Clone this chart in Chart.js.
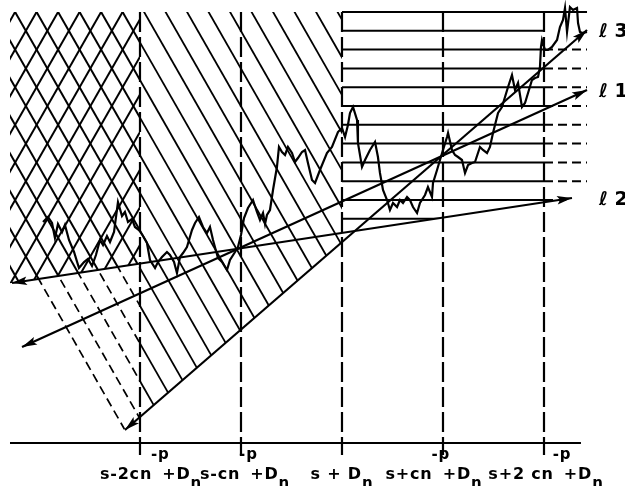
<!DOCTYPE html>
<html><head><meta charset="utf-8">
<script src="https://cdn.jsdelivr.net/npm/chart.js@4/dist/chart.umd.min.js"></script>
<style>html,body{margin:0;padding:0;background:#fff;}canvas{display:block;}</style>
</head><body>
<canvas id="c" width="625" height="486"></canvas>
<script>
// ---- data (x in units of c n^-p around s + D_n) ----
const tickValues = [-2, -1, 0, 1, 2];
const tickMain = ['s-2cn', 's-cn', 's + D', 's+cn', 's+2 cn'];
const tickSup  = ['-p', '-p', '', '-p', '-p'];
const tickTail = ['+D', '+D', '', '+D', '+D'];
const tickSub  = ['n', 'n', 'n', 'n', 'n'];

const walkX = [
 -2.960,-2.911,-2.871,-2.842,-2.812,-2.772,-2.743,-2.703,-2.653,-2.604,
 -2.554,-2.515,-2.475,-2.436,-2.396,-2.366,-2.327,-2.297,-2.257,-2.218,
 -2.178,-2.149,-2.119,-2.079,-2.050,-2.010,-1.970,-1.931,-1.901,-1.851,
 -1.822,-1.782,-1.733,-1.703,-1.663,-1.634,-1.604,-1.574,-1.535,-1.485,
 -1.455,-1.416,-1.376,-1.337,-1.307,-1.277,-1.228,-1.188,-1.139,-1.109,
 -1.059,-1.030,-1.000,-0.970,-0.931,-0.881,-0.842,-0.812,-0.782,-0.762,
 -0.743,-0.713,-0.683,-0.644,-0.624,-0.594,-0.564,-0.535,-0.495,-0.465,
 -0.436,-0.396,-0.366,-0.337,-0.297,-0.267,-0.218,-0.149,-0.099,-0.040,
 0.000,0.030,0.059,0.079,0.109,0.149,0.158,0.198,0.228,0.277,
 0.327,0.356,0.376,0.406,0.446,0.475,0.505,0.545,0.574,0.604,
 0.644,0.673,0.703,0.743,0.772,0.822,0.851,0.891,0.901,0.941,
 0.970,1.000,1.040,1.050,1.089,1.119,1.149,1.188,1.218,1.248,
 1.287,1.317,1.366,1.396,1.436,1.465,1.495,1.545,1.584,1.614,
 1.644,1.683,1.713,1.743,1.782,1.812,1.842,1.881,1.911,1.941,
 1.960,1.970,1.980,2.010,2.040,2.079,2.129,2.158,2.188,2.208,
 2.228,2.257,2.287,2.327,2.337,2.356,2.386,2.426];
const walkY = [
 2.21,2.26,2.20,2.05,2.19,2.11,2.18,2.03,1.91,1.75,
 1.81,1.84,1.77,1.88,2.03,1.98,2.07,2.01,2.11,2.41,
 2.27,2.31,2.21,2.24,2.16,2.13,2.07,2.00,1.83,1.75,
 1.81,1.86,1.91,1.88,1.81,1.70,1.86,1.90,1.96,2.13,
 2.20,2.26,2.16,2.10,2.16,2.03,1.85,1.81,1.73,1.83,
 1.91,1.96,2.08,2.25,2.35,2.43,2.31,2.23,2.30,2.19,
 2.28,2.33,2.53,2.76,2.96,2.91,2.88,2.96,2.90,2.81,
 2.85,2.91,2.93,2.80,2.63,2.60,2.73,2.90,2.96,3.11,
 3.15,3.06,3.18,3.30,3.36,3.23,3.00,2.76,2.83,2.93,
 3.01,2.86,2.70,2.53,2.43,2.33,2.40,2.36,2.43,2.40,
 2.46,2.43,2.36,2.30,2.40,2.48,2.56,2.46,2.60,2.73,
 2.83,2.93,3.06,3.10,2.93,2.88,2.86,2.83,2.70,2.78,
 2.80,2.81,2.96,2.93,2.90,2.96,3.10,3.30,3.36,3.46,
 3.56,3.68,3.53,3.60,3.36,3.40,3.50,3.63,3.65,3.66,
 3.76,3.96,4.03,3.93,3.93,3.96,4.03,4.16,4.23,4.35,
 4.11,4.36,4.33,4.35,4.20,4.11,4.10,4.11];

// lines l1, l2, l3 (two end points each)
const l1X = [-3.168, 2.426], l1Y = [0.96, 3.53];
const l2X = [-3.267, 2.277], l2Y = [1.60, 2.45];
const l3X = [-2.149, 2.426], l3Y = [0.13, 4.13];
const lineNames = ['\u2113 1', '\u2113 2', '\u2113 3'];

const axisX = [-3.287, 2.366];
const verticalY = [-0.12, 4.31];
const regionTop = 4.31;
const hatchLeft = -3.287;
const topEdgeX = [0, 2.426];
const extBand = [2.53, 4.03];
const extRight = 2.426;
const row11X = [2.0, 2.22], row11Y = 2.43;

// ---- helpers ----
function yOn(lx, ly, x) { return ly[0] + (ly[1] - ly[0]) * (x - lx[0]) / (lx[1] - lx[0]); }
function intersect(a, b, c, d) {
  const x1=a[0],y1=a[1],x2=b[0],y2=b[1],x3=c[0],y3=c[1],x4=d[0],y4=d[1];
  const den = (x1-x2)*(y3-y4)-(y1-y2)*(x3-x4);
  const px = ((x1*y2-y1*x2)*(x3-x4)-(x1-x2)*(x3*y4-y3*x4))/den;
  const py = ((x1*y2-y1*x2)*(y3-y4)-(y1-y2)*(x3*y4-y3*x4))/den;
  return [px, py];
}
function hatch(ctx, poly, anchor, dir, sp, dash, width) {
  const L = Math.hypot(dir[0], dir[1]);
  const d = [dir[0]/L, dir[1]/L], n = [-d[1], d[0]];
  let omin=Infinity, omax=-Infinity, tmin=Infinity, tmax=-Infinity;
  poly.forEach(p => {
    const vx = p[0]-anchor[0], vy = p[1]-anchor[1];
    const o = vx*n[0]+vy*n[1], t = vx*d[0]+vy*d[1];
    omin=Math.min(omin,o); omax=Math.max(omax,o); tmin=Math.min(tmin,t); tmax=Math.max(tmax,t);
  });
  ctx.save();
  ctx.beginPath();
  poly.forEach((p,i)=> i ? ctx.lineTo(p[0],p[1]) : ctx.moveTo(p[0],p[1]));
  ctx.closePath();
  ctx.clip();
  ctx.strokeStyle = '#000'; ctx.lineWidth = width; ctx.setLineDash(dash); ctx.lineCap = 'butt';
  for (let k = Math.ceil(omin/sp - 1e-6); k <= Math.floor(omax/sp + 1e-6); k++) {
    const o = k*sp;
    const bx = anchor[0]+n[0]*o, by = anchor[1]+n[1]*o;
    ctx.beginPath();
    ctx.moveTo(bx+d[0]*tmin, by+d[1]*tmin);
    ctx.lineTo(bx+d[0]*tmax, by+d[1]*tmax);
    ctx.stroke();
  }
  ctx.restore();
}

const SLOPE = 1.75;
const SP = 21.5 * SLOPE / Math.hypot(1, SLOPE);
const ROWSP = 18.8;

const hatchPlugin = {
  id: 'hatch',
  beforeDatasetsDraw(chart) {
    const ctx = chart.ctx, xs = chart.scales.x, ys = chart.scales.y;
    const P = (x, y) => [xs.getPixelForValue(x), ys.getPixelForValue(y)];
    const l2 = x => yOn(l2X, l2Y, x), l3 = x => yOn(l3X, l3Y, x);
    const tip = P(l3X[0], l3Y[0]);
    const topPx = ys.getPixelForValue(regionTop);
    const back = [1, SLOPE], fwd = [1, -SLOPE];
    const cross = [P(hatchLeft, regionTop), P(-2, regionTop), P(-2, l2(-2)), P(hatchLeft, l2(hatchLeft))];
    hatch(ctx, cross, tip, back, SP, [], 2);
    const fwdAnchor = [tip[0] - (tip[1] - topPx) / SLOPE, topPx];
    hatch(ctx, cross, fwdAnchor, fwd, SP, [], 2);
    const right = [P(-2, regionTop), P(0, regionTop), P(0, l3(0)), P(-2, l3(-2))];
    hatch(ctx, right, tip, back, SP, [], 1.8);
    const a = P(-3.5, l2(-3.5)), b = P(-2, l2(-2));
    const q = intersect(a, b, tip, [tip[0] + 1, tip[1] + SLOPE]);
    const dashedPoly = [[q[0]-3, q[1]-1], b, P(-2, l3(-2)), [tip[0]-3, tip[1]+1]];
    hatch(ctx, dashedPoly, tip, back, SP, [9, 5], 1.7);
    const hor = [P(0, regionTop), P(2, regionTop), P(2, l2(2)), P(0, l2(0))];
    hatch(ctx, hor, [0, topPx], [1, 0], ROWSP, [], 2);
    const ext = [P(2, extBand[1]), P(extRight, extBand[1]), P(extRight, extBand[0]), P(2, extBand[0])];
    hatch(ctx, ext, [0, topPx], [1, 0], ROWSP, [9, 5], 2);
  }
};

function arrowHead(ctx, from, to) {
  const dx = to[0]-from[0], dy = to[1]-from[1], L = Math.hypot(dx, dy);
  const u = [dx/L, dy/L], n = [-u[1], u[0]];
  const len = 15, w = 4.2;
  ctx.beginPath();
  ctx.moveTo(to[0], to[1]);
  ctx.lineTo(to[0]-u[0]*len+n[0]*w, to[1]-u[1]*len+n[1]*w);
  ctx.lineTo(to[0]-u[0]*len*0.8, to[1]-u[1]*len*0.8);
  ctx.lineTo(to[0]-u[0]*len-n[0]*w, to[1]-u[1]*len-n[1]*w);
  ctx.closePath();
  ctx.fill();
}

const decoPlugin = {
  id: 'deco',
  afterDatasetsDraw(chart) {
    const ctx = chart.ctx, xs = chart.scales.x, ys = chart.scales.y;
    const P = (x, y) => [xs.getPixelForValue(x), ys.getPixelForValue(y)];
    ctx.save();
    ctx.fillStyle = '#000';
    [[l1X, l1Y], [l2X, l2Y], [l3X, l3Y]].forEach(([lx, ly]) => {
      const p0 = P(lx[0], ly[0]), p1 = P(lx[1], ly[1]);
      arrowHead(ctx, p0, p1);
      arrowHead(ctx, p1, p0);
    });
    // line names
    ctx.font = 'bold 19px "DejaVu Sans"';
    ctx.textBaseline = 'alphabetic';
    ctx.textAlign = 'left';
    const ends = [[l1X, l1Y], [l2X, l2Y], [l3X, l3Y]];
    ends.forEach(([lx, ly], i) => {
      const p = P(lx[1], ly[1]);
      ctx.fillText(lineNames[i], 599, p[1] + 7);
    });
    // tick labels
    const shifts = [11, 4, 0, -9, 2];
    const mainFont = 'bold 16px "DejaVu Sans"', smallFont = 'bold 15px "DejaVu Sans"';
    ctx.letterSpacing = '0.8px';
    tickValues.forEach((v, i) => {
      ctx.font = mainFont;
      const wM = ctx.measureText(tickMain[i]).width;
      const wT = tickTail[i] ? ctx.measureText(tickTail[i]).width : 0;
      ctx.font = smallFont;
      const wS = tickSup[i] ? ctx.measureText(tickSup[i]).width : 0;
      const wB = ctx.measureText(tickSub[i]).width;
      const supAdv = wS * 0.55;
      const total = wM + supAdv + wT + wB;
      let x = xs.getPixelForValue(v) + shifts[i] - total / 2;
      ctx.font = mainFont; ctx.fillText(tickMain[i], x, 479); x += wM;
      if (tickSup[i]) { ctx.font = smallFont; ctx.fillText(tickSup[i], x - 1, 459); x += supAdv; }
      if (tickTail[i]) { ctx.font = mainFont; ctx.fillText(tickTail[i], x, 479); x += wT; }
      ctx.font = smallFont; ctx.fillText(tickSub[i], x, 488);
    });
    ctx.restore();
  }
};

const seg = (xs, ys) => xs.map((x, i) => ({x, y: ys[i]}));
const base = {showLine: true, pointRadius: 0, borderColor: '#000', fill: false, tension: 0};
const datasets = [];
datasets.push({...base, data: seg(axisX, [0, 0]), borderWidth: 2.2});
tickValues.forEach(v => datasets.push({...base, data: seg([v, v], [verticalY[1], verticalY[0]]), borderWidth: 2.2, borderDash: [20, 5]}));
datasets.push({...base, data: seg(topEdgeX, [regionTop, regionTop]), borderWidth: 2});
datasets.push({...base, data: seg(row11X, [row11Y, row11Y]), borderWidth: 2, borderDash: [9, 5]});
datasets.push({...base, data: seg(l1X, l1Y), borderWidth: 2.2});
datasets.push({...base, data: seg(l2X, l2Y), borderWidth: 2.2});
datasets.push({...base, data: seg(l3X, l3Y), borderWidth: 2.2});
datasets.push({...base, data: seg(walkX, walkY), borderWidth: 2.2, borderJoinStyle: 'miter'});

new Chart(document.getElementById('c'), {
  type: 'scatter',
  data: {datasets},
  options: {
    responsive: false, animation: false, devicePixelRatio: 1,
    layout: {padding: 0},
    plugins: {legend: {display: false}, tooltip: {enabled: false}},
    scales: {
      x: {type: 'linear', display: false, min: -3.386, max: 2.802},
      y: {type: 'linear', display: false, min: -0.43, max: 4.43}
    }
  },
  plugins: [hatchPlugin, decoPlugin]
});
</script>
</body></html>
